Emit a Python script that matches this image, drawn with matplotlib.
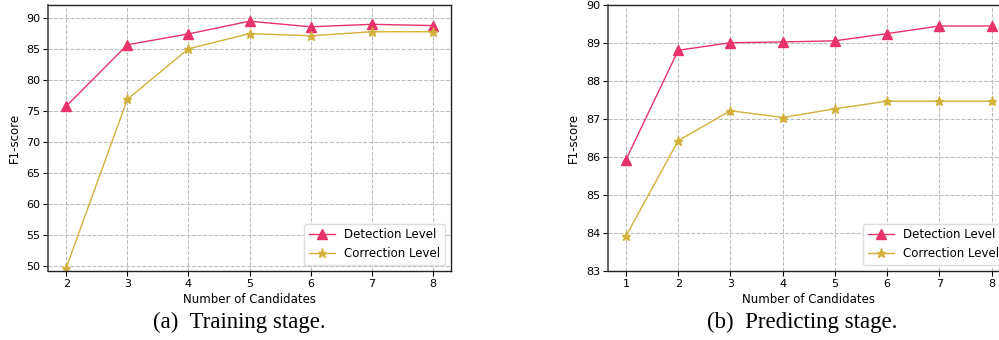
import numpy as np
import matplotlib
matplotlib.use("Agg")
import matplotlib.pyplot as plt

# Data
train_k = [2, 3, 4, 5, 6, 7, 8]
train_det = [75.75, 85.65, 87.4, 89.45, 88.55, 88.95, 88.75]
train_cor = [49.7, 76.85, 85.0, 87.45, 87.1, 87.75, 87.75]

pred_k = [1, 2, 3, 4, 5, 6, 7, 8]
pred_det = [85.93, 88.81, 89.01, 89.03, 89.06, 89.25, 89.45, 89.45]
pred_cor = [83.92, 86.43, 87.22, 87.04, 87.27, 87.47, 87.47, 87.47]

labels = ["Detection Level", "Correction Level"]
det_color = "#e8336a"
cor_color = "#d4b13a"

plt.rcParams['font.family'] = ['DejaVu Sans']
plt.rcParams['font.size'] = 8

fig = plt.figure(figsize=(9.99, 3.4), dpi=100)
ax1 = fig.add_axes([0.048, 0.203, 0.4035, 0.782])
ax2 = fig.add_axes([0.6083, 0.203, 0.4027, 0.782])


def style(ax):
    ax.grid(True, linestyle='--', color='#bbbbbb', linewidth=0.75)
    ax.set_axisbelow(True)
    for s in ax.spines.values():
        s.set_color('#222222')
        s.set_linewidth(1.0)
    ax.spines['left'].set_color('#555555')
    ax.spines['left'].set_linewidth(1.3)
    ax.tick_params(direction='out', length=3.5, width=0.8, labelsize=8, pad=2)
    ax.set_xlabel("Number of Candidates", fontsize=8.5, labelpad=3)
    ax.set_ylabel("F1-score", fontsize=8.5, labelpad=4)


ax1.plot(train_k, train_det, color=det_color, marker='^', markersize=6.5, linewidth=1.0, label=labels[0])
ax1.plot(train_k, train_cor, color=cor_color, marker='*', markersize=6.5, linewidth=1.0, label=labels[1])
ax1.set_xlim(1.7, 8.3)
ax1.set_ylim(49.15, 92.05)
ax1.set_yticks(np.arange(50, 91, 5))
ax1.set_xticks(train_k)
style(ax1)
ax1.legend(loc='lower right', fontsize=8.5, framealpha=1, edgecolor='#dddddd',
           borderaxespad=0.5, handlelength=2.2)

ax2.plot(pred_k, pred_det, color=det_color, marker='^', markersize=6.5, linewidth=1.0, label=labels[0])
ax2.plot(pred_k, pred_cor, color=cor_color, marker='*', markersize=6.5, linewidth=1.0, label=labels[1])
ax2.set_xlim(0.65, 8.35)
ax2.set_ylim(83, 90)
ax2.set_yticks(np.arange(83, 91, 1))
ax2.set_xticks(pred_k)
style(ax2)
ax2.legend(loc='lower right', fontsize=8.5, framealpha=1, edgecolor='#dddddd',
           borderaxespad=0.5, handlelength=2.2)

fig.text(0.240, 0.053, "(a)  Training stage.", ha='center', va='center',
         fontsize=16.5, family='Liberation Serif')
fig.text(0.803, 0.053, "(b)  Predicting stage.", ha='center', va='center',
         fontsize=16.5, family='Liberation Serif')

fig.savefig("out.png", dpi=100)
